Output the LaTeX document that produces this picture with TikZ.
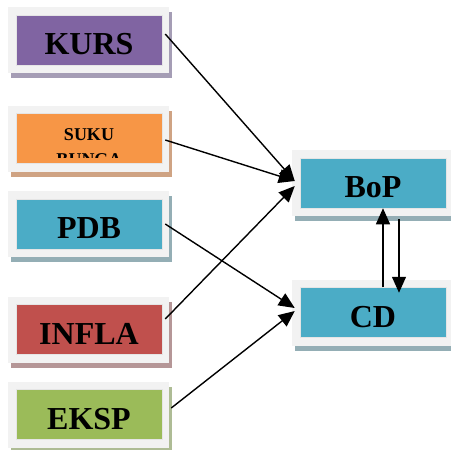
\documentclass[tikz,border=0pt]{standalone}
\usepackage{fontspec}
\setmainfont{Liberation Serif}
\usetikzlibrary{arrows.meta}

\definecolor{panelgray}{HTML}{F2F2F2}
\definecolor{kursfill}{HTML}{8064A2}
\definecolor{kursshade}{HTML}{A59DB5}
\definecolor{sukufill}{HTML}{F79646}
\definecolor{sukushade}{HTML}{CFA383}
\definecolor{bluefill}{HTML}{4BACC6}
\definecolor{blueshade}{HTML}{94AEB5}
\definecolor{inflafill}{HTML}{C0504D}
\definecolor{inflashade}{HTML}{B59697}
\definecolor{ekspfill}{HTML}{9BBB59}
\definecolor{ekspshade}{HTML}{AEBC95}

\tikzset{
  factor/.style={draw=white!90!black, line width=0.5pt, minimum width=146pt,
    minimum height=50pt, inner sep=0pt,
    font=\fontsize{32}{32}\selectfont\bfseries, text height=29.5pt, text depth=0pt},
  smalltext/.style={font=\fontsize{18}{18}\selectfont\bfseries, anchor=base, inner sep=0pt},
  link/.style={line width=1.4pt, -{Triangle[length=16pt,width=14pt]}},
}

% #1 node name, #2/#3 centre, #4 fill, #5 shadow colour, #6 text
\newcommand\factorbox[6]{%
  \fill[#5] ({#2-78},{#3-28}) rectangle ({#2+83},{#3+38});
  \fill[panelgray] ({#2-81},{#3-33}) rectangle ({#2+80},{#3+33});
  \node[factor, fill=#4] (#1) at (#2,#3) {#6};
}

\begin{document}
\begin{tikzpicture}[x=1pt, y=-1pt]
  \useasboundingbox (0,0) rectangle (451,450);

  % left-hand factors
  \factorbox{kurs}{89}{40}{kursfill}{kursshade}{KURS}
  \factorbox{suku}{89}{138.5}{sukufill}{sukushade}{}
  \begin{scope}
    \clip (16,113) rectangle (162,157);
    \node[smalltext] (sukuA) at (89,140) {SUKU};
    \node[smalltext] (sukuB) at (89,165) {BUNGA};
  \end{scope}
  \factorbox{pdb}{89}{224}{bluefill}{blueshade}{PDB}
  \factorbox{infla}{89}{329.5}{inflafill}{inflashade}{INFLA}
  \factorbox{eksp}{89}{414.5}{ekspfill}{ekspshade}{EKSP}

  % right-hand outcomes
  \factorbox{bop}{373}{183}{bluefill}{blueshade}{BoP}
  \factorbox{cd}{373}{312.5}{bluefill}{blueshade}{CD}

  % influences
  \draw[link] ([xshift=3pt,yshift=6pt]kurs.east) -- ([xshift=-5pt,yshift=2pt]bop.west);
  \draw[link] ([xshift=3pt,yshift=-1.5pt]suku.east) -- ([xshift=-5pt,yshift=2pt]bop.west);
  \draw[link] ([xshift=3pt]pdb.east) -- ([xshift=-5pt,yshift=4.5pt]cd.west);
  \draw[link] ([xshift=3pt,yshift=10.5pt]infla.east) -- ([xshift=-5pt,yshift=-3pt]bop.west);
  \draw[link] ([xshift=9pt,yshift=6.5pt]eksp.east) -- ([xshift=-5pt,yshift=1.5pt]cd.west);

  % two-way link between BoP and CD
  \draw[link] ([xshift=10pt]cd.north) -- ([xshift=10pt]bop.south);
  \draw[link] ([xshift=26pt,yshift=-11pt]bop.south) -- ([xshift=26pt,yshift=-5.5pt]cd.north);
\end{tikzpicture}
\end{document}
